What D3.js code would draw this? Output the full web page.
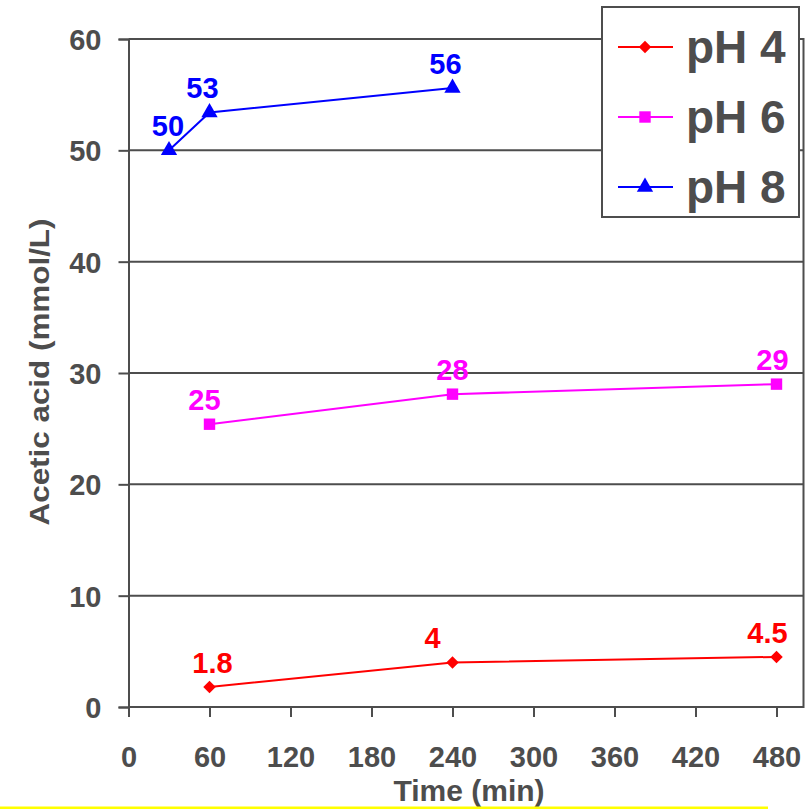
<!DOCTYPE html>
<html>
<head>
<meta charset="utf-8">
<script src="https://cdn.jsdelivr.net/npm/d3@7"></script>
<style>
  html, body { margin: 0; padding: 0; background: #fff; }
  svg { display: block; }
  text { font-family: "Liberation Sans", Arial, sans-serif; font-weight: bold; }
</style>
</head>
<body>
<div id="chart"></div>
<script>
// Acetic acid concentration over time at three pH levels
const seriesNames = ["pH 4", "pH 6", "pH 8"];
const timesPH4 = [60, 240, 480];
const valuesPH4 = [1.8, 4, 4.5];
const timesPH6 = [60, 240, 480];
const valuesPH6 = [25.4, 28.1, 29.0];
const timesPH8 = [30, 60, 240];
const valuesPH8 = [50, 53.4, 55.6];
const xTicks = [0, 60, 120, 180, 240, 300, 360, 420, 480];
const yTicks = [0, 10, 20, 30, 40, 50, 60];
const xTitle = "Time (min)";
const yTitle = "Acetic acid (mmol/L)";

const W = 808, H = 809;
const ink = "#4d4d4d";
const colors = ["#ff0000", "#ff00ff", "#0000ff"];
// diamond = square turned 45 degrees
const symbols = [d3.symbolSquare, d3.symbolSquare, d3.symbolTriangle];
const symbolSizes = [78, 130, 115];
const symbolRot = [45, 0, 0];
const labelFormats = [d3.format("~g"), d3.format(".0f"), d3.format(".0f")];
// small per-label nudges so labels sit clear of the lines
const labelDx = [[3, -20, -9], [-5, 0, -4], [-1, -7, -7]];

const series = [
  { name: seriesNames[0], pts: timesPH4.map((t, i) => ({ t, v: valuesPH4[i] })) },
  { name: seriesNames[1], pts: timesPH6.map((t, i) => ({ t, v: valuesPH6[i] })) },
  { name: seriesNames[2], pts: timesPH8.map((t, i) => ({ t, v: valuesPH8[i] })) }
];

const svg = d3.select("#chart").append("svg").attr("width", W).attr("height", H);

const x = d3.scaleLinear().domain([0, 500]).range([128.5, 803.5]);
const y = d3.scaleLinear().domain([0, 60]).range([707, 39]);

// horizontal gridlines
svg.append("g").selectAll("line").data(yTicks).join("line")
  .attr("x1", x(0)).attr("x2", x(500))
  .attr("y1", d => y(d)).attr("y2", d => y(d))
  .attr("stroke", ink).attr("stroke-width", 2);

// right border of plot area
svg.append("line")
  .attr("x1", x(500)).attr("x2", x(500)).attr("y1", y(60) - 1).attr("y2", y(0) + 1)
  .attr("stroke", ink).attr("stroke-width", 2);

// y axis
const yAxis = svg.append("g").attr("transform", `translate(${x(0)},0)`)
  .call(d3.axisLeft(y).tickValues(yTicks).tickSize(10).tickPadding(17).tickFormat(d3.format("d")));
yAxis.select(".domain").attr("stroke", ink).attr("stroke-width", 2);
yAxis.selectAll(".tick line").attr("stroke", ink).attr("stroke-width", 2);
yAxis.selectAll(".tick text").attr("fill", ink)
  .style("font-size", "29px").style("font-family", "'Liberation Sans', Arial, sans-serif")
  .style("font-weight", "bold").attr("dy", "0.36em");

// x axis
const xAxis = svg.append("g").attr("transform", `translate(0,${y(0)})`)
  .call(d3.axisBottom(x).tickValues(xTicks).tickSize(10).tickSizeOuter(0).tickPadding(29).tickFormat(d3.format("d")));
xAxis.select(".domain").attr("stroke", ink).attr("stroke-width", 2)
  .attr("d", `M${x(0)},0H${x(500)}`);
xAxis.selectAll(".tick line").attr("stroke", ink).attr("stroke-width", 2);
xAxis.selectAll(".tick text").attr("fill", ink)
  .style("font-size", "29px").style("font-family", "'Liberation Sans', Arial, sans-serif")
  .style("font-weight", "bold");

// axis titles
svg.append("text")
  .attr("transform", `translate(49,${372}) rotate(-90)`)
  .attr("text-anchor", "middle")
  .attr("textLength", 307).attr("lengthAdjust", "spacingAndGlyphs")
  .attr("fill", ink).style("font-size", "28px")
  .text(yTitle);
svg.append("text")
  .attr("x", 469).attr("y", 801)
  .attr("text-anchor", "middle")
  .attr("fill", ink).style("font-size", "30px")
  .text(xTitle);

// series lines, markers and value labels
const line = d3.line().x(d => x(d.t)).y(d => y(d.v));
series.forEach((s, si) => {
  const g = svg.append("g");
  g.append("path").datum(s.pts).attr("d", line)
    .attr("fill", "none").attr("stroke", colors[si]).attr("stroke-width", 2);
  g.selectAll("path.m").data(s.pts).join("path").attr("class", "m")
    .attr("transform", d => `translate(${x(d.t)},${y(d.v)}) rotate(${symbolRot[si]})`)
    .attr("d", d3.symbol().type(symbols[si]).size(symbolSizes[si]))
    .attr("fill", colors[si]);
  g.selectAll("text").data(s.pts).join("text")
    .attr("x", (d, i) => x(d.t) + labelDx[si][i])
    .attr("y", d => y(d.v) - 14)
    .attr("text-anchor", "middle")
    .attr("fill", colors[si]).style("font-size", "29px")
    .text(d => labelFormats[si](d.v));
});

// legend
const lg = svg.append("g");
lg.append("rect").attr("x", 602).attr("y", 7).attr("width", 197).attr("height", 210)
  .attr("fill", "#fff").attr("stroke", ink).attr("stroke-width", 2);
seriesNames.forEach((name, i) => {
  const cy = 47 + i * 70;
  lg.append("line").attr("x1", 618).attr("x2", 673).attr("y1", cy).attr("y2", cy)
    .attr("stroke", colors[i]).attr("stroke-width", 2);
  lg.append("path").attr("transform", `translate(645,${cy}) rotate(${symbolRot[i]})`)
    .attr("d", d3.symbol().type(symbols[i]).size(symbolSizes[i]))
    .attr("fill", colors[i]);
  lg.append("text").attr("x", 686).attr("y", cy + 16)
    .attr("fill", ink).style("font-size", "46px").text(name);
});

// highlight rule along the bottom edge
svg.append("rect").attr("x", 0).attr("y", 806.5).attr("width", 768).attr("height", 2.5)
  .attr("fill", "#ffff00");
</script>
</body>
</html>
